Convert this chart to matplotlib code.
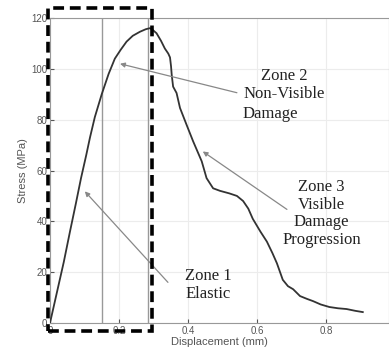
import matplotlib
matplotlib.use("Agg")
import matplotlib.pyplot as plt
from matplotlib.patches import Rectangle

# stress-displacement curve
disp = [0, 0.02, 0.04, 0.058, 0.075, 0.09, 0.105, 0.116, 0.13, 0.15, 0.17,
        0.188, 0.205, 0.222, 0.24, 0.261, 0.278, 0.29, 0.298, 0.309, 0.322,
        0.333, 0.343, 0.348, 0.351, 0.353, 0.357, 0.367, 0.377, 0.396, 0.415,
        0.44, 0.454, 0.473, 0.493, 0.52, 0.542, 0.56, 0.575, 0.588, 0.61,
        0.629, 0.645, 0.658, 0.675, 0.69, 0.705, 0.725, 0.745, 0.763, 0.785,
        0.81, 0.835, 0.86, 0.885, 0.907]
stress = [0, 12, 24, 36, 47, 57, 66, 73, 81, 90, 98,
          104, 107.5, 110.7, 113, 114.6, 115.6, 116, 115.3, 114, 111,
          108, 106, 104.5, 101, 97.6, 93, 90.5, 84.6, 78, 71.5,
          63.6, 57, 53, 52, 51, 50, 48, 45, 41, 36,
          32, 27.5, 23.5, 17, 14.5, 13.3, 10.6, 9.5, 8.6, 7.3,
          6.3, 5.8, 5.5, 4.8, 4.3]

xticks = [0, 0.2, 0.4, 0.6, 0.8]
yticks = [0, 20, 40, 60, 80, 100, 120]
marker_lines = [0.15, 0.284]

fig = plt.figure(figsize=(3.89, 3.55), dpi=100)
ax = fig.add_axes([0.1285, 0.0901, 0.8715, 0.8592])

ax.plot(disp, stress, color="#333333", lw=1.3, zorder=3)
for xv in marker_lines:
    ax.axvline(xv, color="#999999", lw=1, zorder=2)

ax.set_xlim(0, 0.983)
ax.set_ylim(0, 120)
ax.set_xticks(xticks)
ax.set_xticklabels(["0", "0.2", "0.4", "0.6", "0.8"])
ax.set_yticks(yticks)
ax.grid(True, color="#ececec", lw=0.8)
ax.tick_params(direction="in", length=3, labelsize=7, colors="#555555", pad=2)
for s in ax.spines.values():
    s.set_color("#999999")
    s.set_linewidth(0.8)
ax.set_xlabel("Displacement (mm)", fontsize=8, color="#555555",
              family="Liberation Sans", labelpad=1)
ax.set_ylabel("Stress (MPa)", fontsize=8, color="#555555",
              family="Liberation Sans", labelpad=2)
for lab in ax.get_xticklabels() + ax.get_yticklabels():
    lab.set_family("Liberation Sans")

# dashed box around zone 1
ax.add_patch(Rectangle((-0.006, -3.1), 0.302, 127.1, fill=False, ec="black",
                       lw=2.6, ls=(0, (3, 1.6)), clip_on=False, zorder=5))

arrow = dict(arrowstyle="-|>", color="#888888", lw=0.9, mutation_scale=7,
             shrinkA=0, shrinkB=0)
ax.annotate("", xy=(0.203, 102), xytext=(0.542, 90.6), arrowprops=arrow)
ax.annotate("", xy=(0.443, 67.5), xytext=(0.687, 44.7), arrowprops=arrow)
ax.annotate("", xy=(0.101, 51.8), xytext=(0.342, 16), arrowprops=arrow)

tfont = dict(family="Liberation Serif", fontsize=12, color="#222222")
ax.text(0.68, 93.7, "Zone 2\nNon-Visible", ha="center", va="center",
        linespacing=1.15, **tfont)
ax.text(0.559, 82.4, "Damage", ha="left", va="center", **tfont)
ax.text(0.788, 43.1, "Zone 3\nVisible\nDamage\nProgression", ha="center",
        va="center", linespacing=1.15, **tfont)
ax.text(0.458, 14.9, "Zone 1\nElastic", ha="center", va="center",
        linespacing=1.15, **tfont)

fig.savefig("out.png", dpi=100)
